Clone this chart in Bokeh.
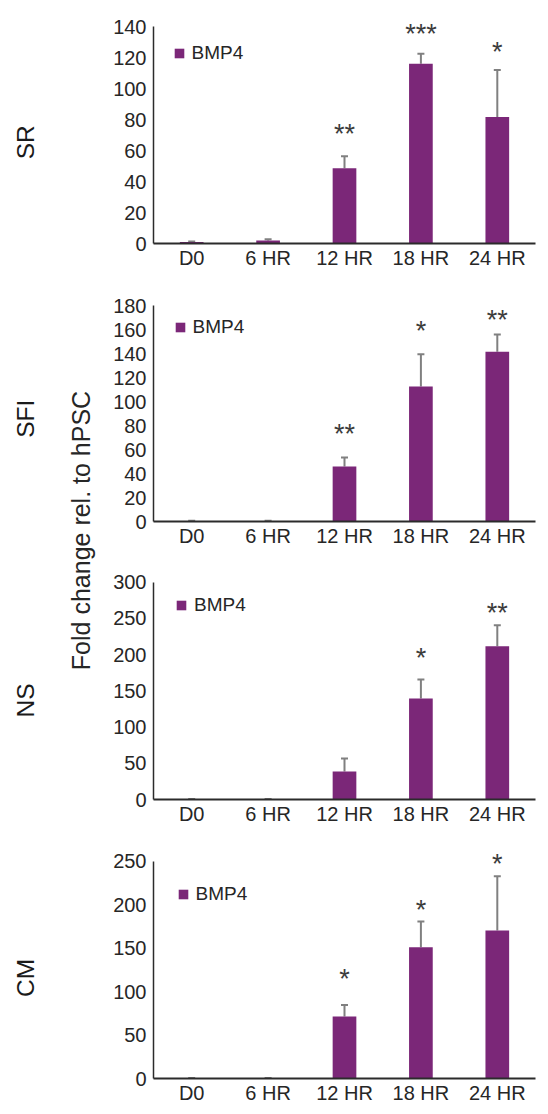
from bokeh.plotting import figure
from bokeh.models import (FactorRange, Range1d, FixedTicker, Whisker, TeeHead,
                          ColumnDataSource, Legend, LegendItem, Label)
from bokeh.layouts import row, column
from bokeh.embed import file_html
from bokeh.resources import INLINE
from bokeh.core.properties import value

# ---------------- data ----------------
categories = ["D0", "6 HR", "12 HR", "18 HR", "24 HR"]
series_name = "BMP4"
y_title = "Fold change rel. to hPSC"
panel_names = ["SR", "SFI", "NS", "CM"]

sr_mean = [1.0, 2.0, 48.6, 116.0, 81.7]
sr_err = [0.3, 0.7, 7.7, 6.4, 30.3]
sr_sig = ["", "", "**", "***", "*"]
sr_sig_y = [0, 0, 73, 138, 126]
sr_ticks = [0, 20, 40, 60, 80, 100, 120, 140]

sfi_mean = [0.5, 0.5, 45.9, 112.4, 141.4]
sfi_err = [0.2, 0.2, 7.5, 27.0, 14.4]
sfi_sig = ["", "", "**", "*", "**"]
sfi_sig_y = [0, 0, 76.5, 162, 171]
sfi_ticks = [0, 20, 40, 60, 80, 100, 120, 140, 160, 180]

ns_mean = [0.5, 0.5, 38.6, 139.4, 211.7]
ns_err = [0.2, 0.2, 18.0, 26.2, 28.9]
ns_sig = ["", "", "", "*", "**"]
ns_sig_y = [0, 0, 0, 201.5, 263]
ns_ticks = [0, 50, 100, 150, 200, 250, 300]

cm_mean = [0.5, 0.5, 71.4, 151.0, 170.2]
cm_err = [0.2, 0.2, 13.1, 29.5, 62.5]
cm_sig = ["", "", "*", "*", "*"]
cm_sig_y = [0, 0, 119, 198, 251]
cm_ticks = [0, 50, 100, 150, 200, 250]

# ---------------- style ----------------
FONT = "Liberation Sans"
PURPLE = "#7b2778"
ERR = "#808080"
AXIS = "#2b2b2b"
TXT = "#262626"


def make_panel(mean, err, sig, sig_y, ticks, y_end, height, b_top, b_bottom, leg_xy):
    src = ColumnDataSource(dict(x=categories, top=mean,
                                upper=[m + e for m, e in zip(mean, err)]))
    p = figure(x_range=FactorRange(*categories), y_range=Range1d(0, y_end),
               width=448, height=height, output_backend="svg", toolbar_location=None,
               min_border_left=53, min_border_right=13,
               min_border_top=b_top, min_border_bottom=b_bottom)
    p.outline_line_color = None
    p.grid.visible = False

    r = p.vbar(x="x", top="top", width=0.31, source=src,
               fill_color=PURPLE, line_color=None)
    w = Whisker(source=src, base="x", lower="top", upper="upper",
                line_color=ERR, line_width=2,
                upper_head=TeeHead(size=7, line_color=ERR, line_width=2),
                lower_head=None)
    p.add_layout(w)

    keep = [i for i, s in enumerate(sig) if s]
    ssrc = ColumnDataSource(dict(x=[categories[i] for i in keep],
                                 y=[sig_y[i] for i in keep],
                                 t=[sig[i] for i in keep]))
    p.text(x="x", y="y", text="t", source=ssrc, text_font=value(FONT),
           text_font_size="27px", text_color="#3c3c3c", text_align="center",
           text_baseline="alphabetic", y_offset=4)

    ya = p.yaxis[0]
    ya.ticker = FixedTicker(ticks=ticks)
    ya.bounds = (0, ticks[-1])
    ya.major_tick_in = 0
    ya.major_tick_out = 0
    ya.minor_tick_in = 0
    ya.minor_tick_out = 0
    ya.major_label_standoff = 7
    ya.axis_line_color = AXIS
    ya.axis_line_width = 1.5

    xa = p.xaxis[0]
    xa.major_tick_in = 0
    xa.major_tick_out = 0
    xa.major_label_standoff = 3
    xa.axis_line_color = AXIS
    xa.axis_line_width = 2

    for a in (xa, ya):
        a.major_label_text_font = FONT
        a.major_label_text_font_size = "20px"
        a.major_label_text_color = TXT

    legend = Legend(items=[LegendItem(label=series_name, renderers=[r])],
                    location=leg_xy, margin=0, padding=0, spacing=0,
                    glyph_width=12, glyph_height=12, label_height=22,
                    label_standoff=7, label_text_font=FONT,
                    label_text_font_size="19px", label_text_color=TXT,
                    label_text_baseline="alphabetic",
                    border_line_color=None, background_fill_alpha=0)
    p.add_layout(legend)
    return p


p1 = make_panel(sr_mean, sr_err, sr_sig, sr_sig_y, sr_ticks, 149.7, 280, 11, 37, (19.5, 179))
p2 = make_panel(sfi_mean, sfi_err, sfi_sig, sfi_sig_y, sfi_ticks, 192.5, 280, 10, 39, (20.5, 183))
p3 = make_panel(ns_mean, ns_err, ns_sig, ns_sig_y, ns_ticks, 320.3, 280, 7, 41, (22, 183.5))
p4 = make_panel(cm_mean, cm_err, cm_sig, cm_sig_y, cm_ticks, 266.9, 274, 6, 36, (23.5, 173))

# label column
lab = figure(width=100, height=1114, x_range=Range1d(0, 100), y_range=Range1d(0, 1114),
             x_axis_type=None, y_axis_type=None, output_backend="svg",
             toolbar_location=None, min_border=0)
lab.outline_line_color = None
lab.grid.visible = False

name_y = [1114 - 141.7, 1114 - 418.3, 1114 - 700, 1114 - 977.5]
for name, yy in zip(panel_names, name_y):
    lab.add_layout(Label(x=25, y=yy, text=name, angle=90, angle_units="deg",
                         text_font=FONT, text_font_size="24.5px", text_color="#1a1a1a",
                         text_align="center", text_baseline="alphabetic"))
lab.add_layout(Label(x=80, y=1114 - 530, text=y_title, angle=90, angle_units="deg",
                     text_font=FONT, text_font_size="25px", text_color=TXT,
                     text_align="center", text_baseline="alphabetic"))

layout = row(lab, column(p1, p2, p3, p4, spacing=0), spacing=0)
open("out.html", "w").write(file_html(layout, INLINE))
